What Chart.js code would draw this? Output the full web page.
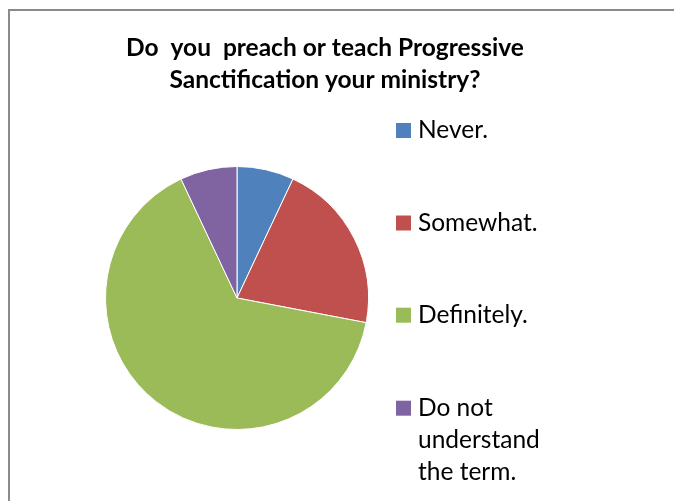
<!DOCTYPE html>
<html>
<head>
<meta charset="utf-8">
<script src="https://cdn.jsdelivr.net/npm/chart.js@4/dist/chart.umd.min.js"></script>
<style>
  html, body { margin: 0; padding: 0; background: #fff; }
  #wrap { position: relative; width: 674px; height: 501px; }
</style>
</head>
<body>
<div id="wrap"><canvas id="c" width="674" height="501"></canvas></div>
<script>
// ---- data ----
const titleLines = ['Do  you  preach or teach Progressive', 'Sanctification your ministry?'];
const categories = ['Never.', 'Somewhat.', 'Definitely.', 'Do not understand the term.'];
const legendLines = [['Never.'], ['Somewhat.'], ['Definitely.'], ['Do not', 'understand', 'the term.']];
const values = [7, 21, 65, 7];
const colors = ['#4F81BD', '#C0504D', '#9BBB59', '#8064A2'];

const frameAndText = {
  id: 'frameAndText',
  afterDraw(chart) {
    const ctx = chart.ctx;
    ctx.save();
    // frame
    ctx.strokeStyle = '#8a8a8a';
    ctx.lineWidth = 2;
    ctx.beginPath();
    ctx.moveTo(9, 501);
    ctx.lineTo(9, 10);
    ctx.lineTo(674, 10);
    ctx.stroke();
    // title
    ctx.fillStyle = '#000';
    ctx.font = 'bold 24.5px Lato';
    ctx.textAlign = 'center';
    ctx.textBaseline = 'alphabetic';
    const tBase = [56, 88];
    titleLines.forEach((t, i) => ctx.fillText(t, 325, tBase[i]));
    // legend
    ctx.textAlign = 'left';
    ctx.font = '24.5px Lato';
    const firstBase = [138, 230.5, 322.7, 415.7];
    const ds = chart.data.datasets[0];
    legendLines.forEach((lines, i) => {
      const b = firstBase[i];
      ctx.fillStyle = ds.backgroundColor[i];
      ctx.fillRect(396, b - 15, 15, 15);
      ctx.fillStyle = '#000';
      lines.forEach((ln, j) => ctx.fillText(ln, 418, b + j * 32));
    });
    ctx.restore();
  }
};

new Chart(document.getElementById('c'), {
  type: 'pie',
  data: {
    labels: categories,
    datasets: [{
      data: values,
      backgroundColor: colors,
      borderColor: '#ffffff',
      borderWidth: 1
    }]
  },
  options: {
    responsive: false,
    animation: false,
    layout: { padding: { left: 105, right: 305, top: 166, bottom: 71 } },
    plugins: {
      legend: { display: false },
      title: { display: false },
      tooltip: { enabled: false }
    }
  },
  plugins: [frameAndText]
});
</script>
</body>
</html>
